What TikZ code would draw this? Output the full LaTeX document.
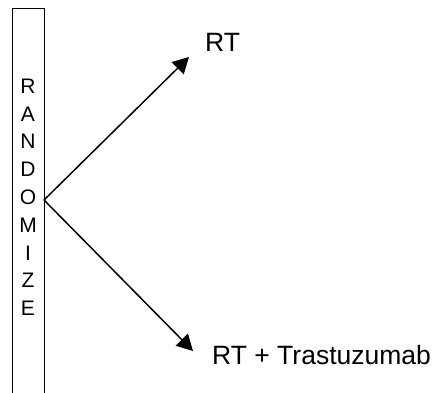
\documentclass[tikz,border=0pt]{standalone}
\usepackage{fontspec}
\setmainfont{Liberation Sans}
\usetikzlibrary{arrows.meta}
\begin{document}
\begin{tikzpicture}[x=1pt,y=-1pt,
  boxline/.style={line width=1pt},
  arm/.style={line width=1.5pt,-{Triangle[length=16pt,width=17pt]}},
  armlabel/.style={inner sep=0pt,font=\fontsize{26.5}{30}\selectfont}]
\useasboundingbox (0,0) rectangle (435,392);
\draw[boxline] (12,400) -- (12,8) -- (44,8) -- (44,400);
\node[inner sep=0pt,align=center,font=\fontsize{21}{27.8}\selectfont] (rand) at (28,197.2)
  {R\\A\\N\\D\\O\\M\\I\\Z\\E};
\coordinate (start) at (44,200);
\node[armlabel,anchor=base west] (rt) at (205,51) {RT};
\node[armlabel,anchor=base west] (rtt) at (212,364) {RT + Trastuzumab};
\coordinate (tipa) at (189,57);
\coordinate (tipb) at (193,351);
\draw[arm] (start) -- (tipa);
\draw[arm] (start) -- (tipb);
\end{tikzpicture}
\end{document}
